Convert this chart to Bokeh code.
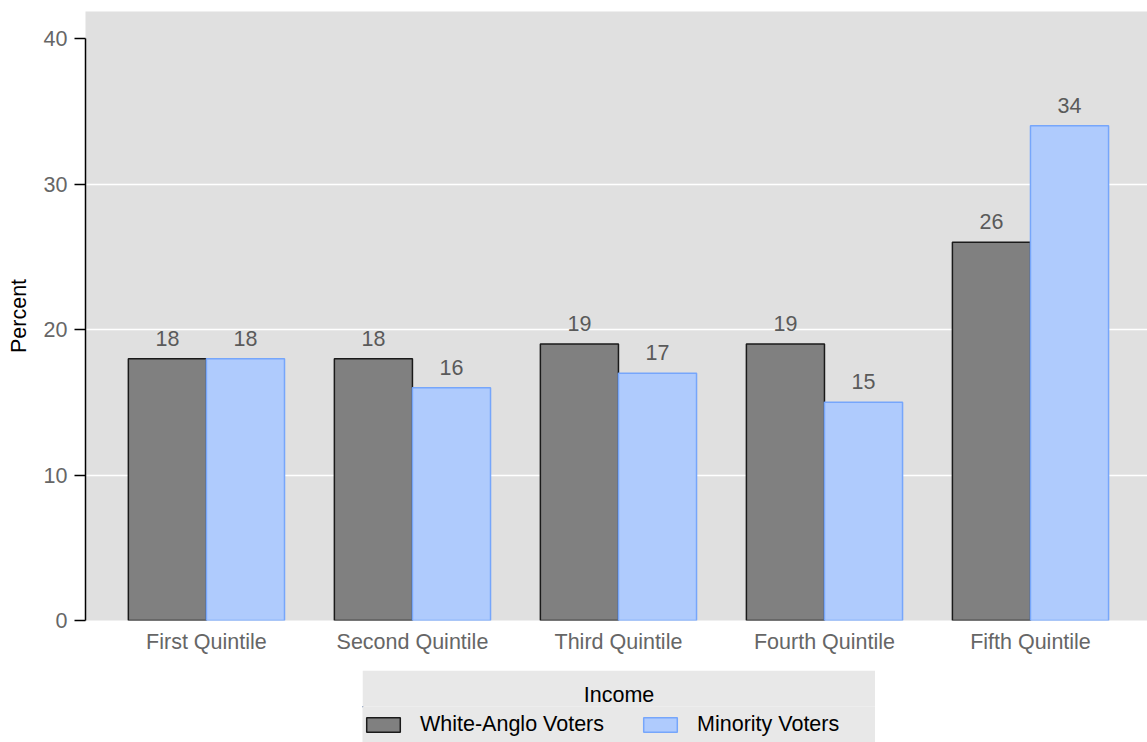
from bokeh.plotting import figure
from bokeh.models import (Range1d, FixedTicker, Legend, LegendItem,
                          ColumnDataSource, Spacer)
from bokeh.layouts import column, row
from bokeh.core.properties import value
from bokeh.embed import file_html
from bokeh.resources import INLINE

categories = ["First Quintile", "Second Quintile", "Third Quintile",
              "Fourth Quintile", "Fifth Quintile"]
white_anglo = [18, 18, 19, 19, 26]
minority = [18, 16, 17, 15, 34]
series_names = ["White-Anglo Voters", "Minority Voters"]
legend_title = "Income"
y_ticks = [0, 10, 20, 30, 40]

FONT = "Liberation Sans"
FS = "21.5px"
BAR_W = 0.379
C_W_FILL, C_W_LINE = "#808080", "#1a1a1a"
C_M_FILL, C_M_LINE = "#afcbfd", "#76a6fb"
idx = list(range(len(categories)))

p = figure(width=1147, height=670, output_backend="svg", toolbar_location=None,
           x_range=Range1d(-0.587, 4.568), y_range=Range1d(0, 41.86),
           min_border_left=85, min_border_top=11, min_border_right=0,
           min_border_bottom=50)
p.background_fill_color = "#e0e0e0"
p.border_fill_color = "white"
p.outline_line_color = None

src_w = ColumnDataSource(dict(x=[i - BAR_W / 2 for i in idx], top=white_anglo,
                              lab=[str(v) for v in white_anglo]))
src_m = ColumnDataSource(dict(x=[i + BAR_W / 2 for i in idx], top=minority,
                              lab=[str(v) for v in minority]))

p.vbar(x="x", top="top", bottom=0, width=BAR_W, source=src_w,
       fill_color=C_W_FILL, line_color=C_W_LINE, line_width=1.5)
p.vbar(x="x", top="top", bottom=0, width=BAR_W, source=src_m,
       fill_color=C_M_FILL, line_color=C_M_LINE, line_width=1.5)

for src in (src_w, src_m):
    p.text(x="x", y="top", text="lab", source=src, text_align="center",
           text_baseline="bottom", y_offset=-13, text_color="#5a5a5a",
           text_font=value(FONT), text_font_size=FS)

# axes
yax = p.yaxis[0]
yax.ticker = FixedTicker(ticks=y_ticks)
yax.bounds = (0, 40)
yax.axis_label = "Percent"
yax.axis_label_text_font = FONT
yax.axis_label_text_font_style = "normal"
yax.axis_label_text_font_size = FS
yax.axis_label_text_color = "black"
yax.axis_label_standoff = 10
yax.major_label_text_font = FONT
yax.major_label_text_font_size = FS
yax.major_label_text_color = "#666666"
yax.major_label_standoff = 7
yax.major_tick_out = 11
yax.major_tick_in = 0
yax.minor_tick_out = 0
yax.minor_tick_in = 0
yax.axis_line_width = 1.5
yax.major_tick_line_width = 1.5
yax.axis_line_color = "black"

xax = p.xaxis[0]
xax.ticker = FixedTicker(ticks=idx)
xax.major_label_overrides = {i: c for i, c in zip(idx, categories)}
xax.major_label_text_font = FONT
xax.major_label_text_font_size = FS
xax.major_label_text_color = "#666666"
xax.major_label_standoff = 9
xax.axis_line_color = None
xax.major_tick_line_color = None
xax.minor_tick_line_color = None
xax.major_tick_out = 0
xax.major_tick_in = 0

p.xgrid.grid_line_color = None
p.ygrid.ticker = FixedTicker(ticks=[10, 20, 30])
p.ygrid.grid_line_color = "white"
p.ygrid.grid_line_width = 1.5

# ---- legend panel (separate small figure with centred title) ----
LEG_BG = "#e8e8e8"
lp = figure(width=513, height=72, output_backend="svg", toolbar_location=None,
            x_axis_type=None, y_axis_type=None,
            x_range=Range1d(0, 1), y_range=Range1d(0, 1),
            min_border_left=0, min_border_right=0, min_border_top=36,
            min_border_bottom=0, title=legend_title)
lp.background_fill_color = LEG_BG
lp.border_fill_color = LEG_BG
lp.outline_line_color = None
lp.grid.visible = False
lp.title.align = "center"
lp.title.text_font = FONT
lp.title.text_font_size = FS
lp.title.text_font_style = "normal"
lp.title.text_color = "black"
lp.title.standoff = 0

# legend-key renderers kept entirely outside the (0, 1) view of this panel
d_w = lp.vbar(x=[-5], top=[6], bottom=5, width=0.1, fill_color=C_W_FILL,
              line_color=C_W_LINE, line_width=1.5)
d_m = lp.vbar(x=[-5], top=[6], bottom=5, width=0.1, fill_color=C_M_FILL,
              line_color=C_M_LINE, line_width=1.5)

legend = Legend(items=[LegendItem(label=series_names[0], renderers=[d_w]),
                       LegendItem(label=series_names[1], renderers=[d_m])],
                orientation="horizontal", location="left",
                background_fill_alpha=0, border_line_color=None,
                padding=10, margin=0,
                glyph_width=42, glyph_height=18, label_standoff=16, spacing=35,
                label_text_font=FONT, label_text_font_size=FS,
                label_text_color="black")
lp.add_layout(legend, "center")

layout = column(p, row(Spacer(width=362, height=72), lp))

open("out.html", "w").write(file_html(layout, INLINE))
